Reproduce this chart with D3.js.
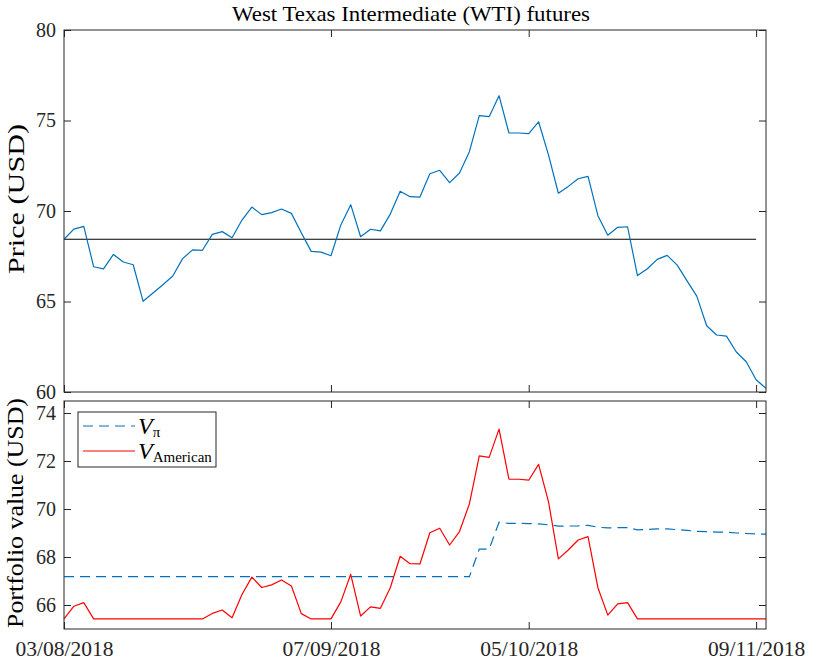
<!DOCTYPE html>
<html>
<head>
<meta charset="utf-8">
<script src="https://cdn.jsdelivr.net/npm/d3@7"></script>
<style>
  html, body { margin: 0; padding: 0; background: #fff; }
  svg { display: block; }
  text { font-family: "Liberation Serif", "Times New Roman", Times, "DejaVu Serif", "Noto Serif", serif; fill: #262626; }
</style>
</head>
<body>
<svg id="chart" width="822" height="662"></svg>
<script>
// ---- data (trading-day index 0..71) ----
const tickIndex = [0, 27, 47, 70];
const tickLabels = ["03/08/2018", "07/09/2018", "05/10/2018", "09/11/2018"];
const strike = 68.44;
const strikeEndIndex = 70;

const price = [68.44, 69.0, 69.15, 66.92, 66.8, 67.6, 67.18, 67.03, 65.01, 65.47,
  65.93, 66.41, 67.37, 67.85, 67.83, 68.71, 68.86, 68.52, 69.5, 70.22,
  69.8, 69.91, 70.11, 69.87, 68.8, 67.77, 67.73, 67.53, 69.23, 70.35,
  68.58, 68.99, 68.9, 69.83, 71.09, 70.79, 70.77, 72.06, 72.25, 71.57,
  72.1, 73.28, 75.27, 75.21, 76.37, 74.31, 74.31, 74.27, 74.93, 73.1,
  70.98, 71.36, 71.78, 71.91, 69.74, 68.66, 69.1, 69.13, 66.43, 66.81,
  67.33, 67.55, 67.02, 66.15, 65.3, 63.66, 63.15, 63.09, 62.21, 61.67,
  60.68, 60.2];

const vPi = [67.18, 67.18, 67.18, 67.18, 67.18, 67.18, 67.18, 67.18, 67.18, 67.18,
  67.18, 67.18, 67.18, 67.18, 67.18, 67.18, 67.18, 67.18, 67.18, 67.18,
  67.18, 67.18, 67.18, 67.18, 67.18, 67.18, 67.18, 67.18, 67.18, 67.18,
  67.18, 67.18, 67.18, 67.18, 67.18, 67.18, 67.18, 67.18, 67.18, 67.18,
  67.18, 67.18, 68.33, 68.33, 69.45, 69.40, 69.40, 69.39, 69.38, 69.34,
  69.29, 69.29, 69.30, 69.32, 69.24, 69.21, 69.22, 69.22, 69.13, 69.15,
  69.17, 69.17, 69.14, 69.11, 69.07, 69.06, 69.04, 69.03, 69.00, 68.98,
  68.96, 68.95];

const vAmerican = [65.42, 65.95, 66.1, 65.42, 65.42, 65.42, 65.42, 65.42, 65.42, 65.42,
  65.42, 65.42, 65.42, 65.42, 65.42, 65.65, 65.79, 65.47, 66.44, 67.16,
  66.73, 66.84, 67.04, 66.79, 65.64, 65.42, 65.42, 65.42, 66.13, 67.28,
  65.54, 65.92, 65.86, 66.72, 68.03, 67.72, 67.71, 69.01, 69.2, 68.5,
  69.06, 70.21, 72.21, 72.15, 73.33, 71.24, 71.24, 71.2, 71.86, 70.31,
  67.92, 68.29, 68.71, 68.85, 66.72, 65.58, 66.05, 66.1, 65.42, 65.42,
  65.42, 65.42, 65.42, 65.42, 65.42, 65.42, 65.42, 65.42, 65.42, 65.42,
  65.42, 65.42];

const topTicks = [60, 65, 70, 75, 80];
const bottomTicks = [66, 68, 70, 72, 74];

const title = "West Texas Intermediate (WTI) futures";
const topYLabel = "Price (USD)";
const bottomYLabel = "Portfolio value (USD)";

// ---- layout ----
const svg = d3.select("#chart");
const L = 64, R = 766;
const top1 = 30, bot1 = 392;
const top2 = 401, bot2 = 629;
const axisColor = "#262626";
const tickLen = 7;
const fs = 20;

const x = d3.scaleLinear().domain([0, price.length - 1]).range([L, R]);
const y1 = d3.scaleLinear().domain([60, 80]).range([bot1, top1]);
const y2 = d3.scaleLinear().domain([65.0, 74.5]).range([bot2, top2]);

function styleAxis(g) {
  g.select(".domain").remove();
  g.selectAll(".tick line").attr("stroke", axisColor).attr("stroke-width", 1);
  g.selectAll(".tick text").attr("font-size", fs).attr("font-family", null).attr("fill", axisColor);
}

function panel(y, yTicks, t, b) {
  const g = svg.append("g");
  g.append("g").attr("transform", `translate(${L},0)`)
    .call(d3.axisLeft(y).tickValues(yTicks).tickSize(-tickLen).tickPadding(8).tickFormat(d3.format("d")))
    .call(styleAxis);
  g.append("g").attr("transform", `translate(${R},0)`)
    .call(d3.axisRight(y).tickValues(yTicks).tickSize(-tickLen).tickFormat(""))
    .call(styleAxis);
  g.append("g").attr("transform", `translate(0,${t})`)
    .call(d3.axisTop(x).tickValues(tickIndex).tickSize(-tickLen).tickFormat(""))
    .call(styleAxis);
  return g;
}

// ---- top panel ----
const p1 = panel(y1, topTicks, top1, bot1);
p1.append("g").attr("transform", `translate(0,${bot1})`)
  .call(d3.axisBottom(x).tickValues(tickIndex).tickSize(-tickLen).tickFormat(""))
  .call(styleAxis);

p1.append("line")
  .attr("x1", x(0)).attr("x2", x(strikeEndIndex))
  .attr("y1", y1(strike)).attr("y2", y1(strike))
  .attr("stroke", "#000").attr("stroke-width", 1.2);

p1.append("path")
  .datum(price)
  .attr("fill", "none").attr("stroke", "#0072BD").attr("stroke-width", 1.2)
  .attr("stroke-linejoin", "round")
  .attr("d", d3.line().x((d, i) => x(i)).y(d => y1(d)));

p1.append("rect").attr("x", L).attr("y", top1).attr("width", R - L).attr("height", bot1 - top1)
  .attr("fill", "none").attr("stroke", axisColor).attr("stroke-width", 1);

// ---- bottom panel ----
const p2 = panel(y2, bottomTicks, top2, bot2);
const xAxisG = p2.append("g").attr("transform", `translate(0,${bot2})`)
  .call(d3.axisBottom(x).tickValues(tickIndex).tickSize(-tickLen).tickPadding(12)
    .tickFormat((d, i) => tickLabels[i]))
  .call(styleAxis);
xAxisG.selectAll(".tick text").attr("font-size", 21.5);

p2.append("path")
  .datum(vPi)
  .attr("fill", "none").attr("stroke", "#0072BD").attr("stroke-width", 1.2)
  .attr("stroke-dasharray", "10,6")
  .attr("d", d3.line().x((d, i) => x(i)).y(d => y2(d)));

p2.append("path")
  .datum(vAmerican)
  .attr("fill", "none").attr("stroke", "#FF0000").attr("stroke-width", 1.2)
  .attr("stroke-linejoin", "round")
  .attr("d", d3.line().x((d, i) => x(i)).y(d => y2(d)));

p2.append("rect").attr("x", L).attr("y", top2).attr("width", R - L).attr("height", bot2 - top2)
  .attr("fill", "none").attr("stroke", axisColor).attr("stroke-width", 1);

// ---- legend ----
const lg = svg.append("g");
lg.append("rect").attr("x", 78).attr("y", 412).attr("width", 138).attr("height", 55)
  .attr("fill", "#fff").attr("stroke", axisColor).attr("stroke-width", 1);
const legendItems = [
  { color: "#0072BD", dash: "10,6", sub: "π", yy: 426 },
  { color: "#FF0000", dash: null, sub: "American", yy: 451 }
];
legendItems.forEach(it => {
  lg.append("line").attr("x1", 83).attr("x2", 135).attr("y1", it.yy).attr("y2", it.yy)
    .attr("stroke", it.color).attr("stroke-width", 1.2)
    .attr("stroke-dasharray", it.dash);
  const t = lg.append("text").attr("x", 138).attr("y", it.yy + 8).attr("font-size", 24).style("fill", "#000");
  t.append("tspan").attr("font-style", "italic").text("V");
  t.append("tspan").attr("font-size", 15).attr("dy", 3).text(it.sub);
});

// ---- title and axis labels ----
svg.append("text").attr("x", 411).attr("y", 21).attr("text-anchor", "middle")
  .attr("font-size", 22).attr("textLength", 358).attr("lengthAdjust", "spacingAndGlyphs")
  .style("fill", "#000").text(title);

svg.append("text").attr("transform", `translate(24,199) rotate(-90)`)
  .attr("text-anchor", "middle").attr("font-size", 24)
  .attr("textLength", 150).attr("lengthAdjust", "spacingAndGlyphs")
  .style("fill", "#000").text(topYLabel);

svg.append("text").attr("transform", `translate(23,513) rotate(-90)`)
  .attr("text-anchor", "middle").attr("font-size", 24)
  .attr("textLength", 230).attr("lengthAdjust", "spacingAndGlyphs")
  .style("fill", "#000").text(bottomYLabel);
</script>
</body>
</html>
